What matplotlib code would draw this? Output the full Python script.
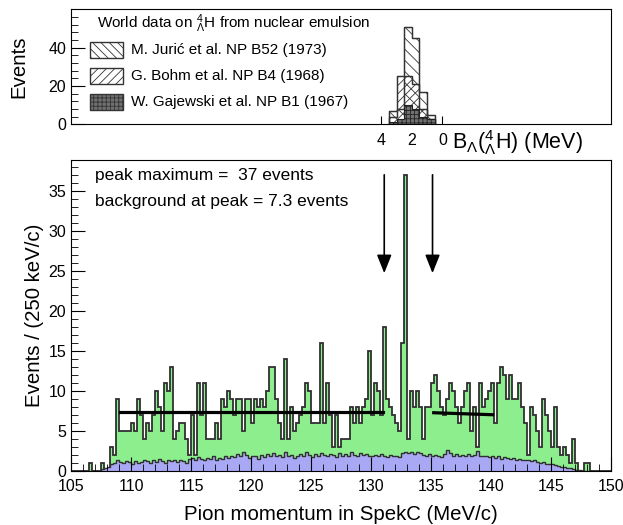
import numpy as np
import matplotlib
matplotlib.use('Agg')
import matplotlib.pyplot as plt
from matplotlib.patches import Rectangle
from matplotlib.ticker import MultipleLocator

plt.rcParams['font.family'] = ['Liberation Sans', 'DejaVu Sans']
plt.rcParams['mathtext.fontset'] = 'custom'
plt.rcParams['mathtext.rm'] = 'Liberation Sans'
plt.rcParams['mathtext.it'] = 'Liberation Sans:italic'
plt.rcParams['hatch.linewidth'] = 0.6

# pion momentum histogram, 0.25 MeV/c bins from 105 to 150 MeV/c
total_counts = [
    0, 0, 0, 0, 0, 0, 1, 0, 0, 0, 1, 0, 0, 3, 2,
    9, 5, 5, 5, 5, 6, 5, 9, 7, 4, 6, 5, 7, 10, 8,
    5, 11, 10, 13, 4, 5, 6, 6, 4, 2, 7, 2, 11, 7, 11,
    4, 4, 4, 6, 4, 9, 8, 10, 9, 7, 9, 9, 5, 9, 9,
    6, 9, 8, 9, 8, 10, 13, 13, 9, 6, 4, 14, 4, 8, 5,
    6, 7, 8, 11, 10, 6, 6, 6, 16, 6, 11, 7, 3, 7, 3,
    4, 4, 4, 8, 6, 8, 6, 8, 9, 15, 7, 11, 10, 7, 18,
    9, 8, 7, 6, 5, 16, 37, 4, 10, 8, 10, 8, 4, 8, 8,
    11, 12, 10, 8, 7, 9, 11, 10, 8, 6, 8, 10, 11, 5, 8,
    3, 11, 8, 9, 10, 11, 6, 11, 13, 12, 9, 12, 9, 9, 11,
    8, 6, 2, 8, 7, 5, 3, 9, 7, 5, 3, 8, 3, 2, 3,
    2, 1, 4, 1, 0, 0, 1, 1, 0, 0, 0, 0, 0, 0, 0,
]
background_counts = [
    0, 0, 0, 0, 0, 0, 0, 0, 0, 0, 0.2, 0.3, 0.5, 0.8, 1.0,
    1.3, 1.1, 1.0, 1.2, 1.1, 0.9, 1.2, 1.0, 1.1, 1.3, 1.2, 1.0, 1.3, 1.1, 1.5,
    1.2, 1.0, 1.3, 1.2, 1.4, 1.1, 1.3, 1.2, 1.0, 1.5, 1.6, 1.3, 1.7, 1.5, 1.4,
    1.6, 1.5, 1.8, 1.4, 1.6, 1.5, 1.9, 1.6, 1.8, 1.7, 2.1, 1.8, 2.4, 2.0, 1.6,
    1.9, 1.8, 1.5, 2.0, 1.7, 2.1, 1.8, 2.2, 1.9, 2.0, 1.7, 2.3, 1.8, 2.0, 1.6,
    1.9, 2.1, 1.8, 2.4, 2.0, 1.7, 2.1, 1.9, 2.2, 2.0, 1.8, 2.1, 2.0, 1.7, 2.2,
    1.9, 2.1, 1.8, 2.3, 2.0, 1.9, 2.2, 2.0, 2.1, 1.8, 1.9, 2.0, 1.8, 2.1, 1.9,
    1.7, 2.0, 1.8, 1.9, 1.7, 2.2, 2.4, 2.2, 2.3, 2.1, 2.4, 2.2, 2.0, 1.9, 2.1,
    1.8, 2.0, 1.9, 1.7, 2.1, 2.6, 2.2, 1.9, 2.1, 1.8, 2.0, 1.9, 2.1, 1.8, 2.0,
    2.5, 1.9, 1.8, 1.9, 1.7, 1.8, 1.6, 1.8, 1.5, 1.7, 1.6, 1.5, 1.6, 1.4, 1.5,
    1.3, 1.4, 1.3, 1.2, 1.3, 1.1, 1.0, 1.1, 0.9, 0.8, 0.9, 0.7, 0.6, 0.5, 0.5,
    0.4, 0.3, 0.2, 0.1, 0.1, 0, 0, 0, 0, 0, 0, 0, 0, 0, 0,
]
mom_edges = np.arange(105, 150.001, 0.25)

# background fit segments
fit1_x = [109.1, 131.0]
fit1_y = [7.35, 7.35]
fit2_x = [135.2, 140.1]
fit2_y = [7.25, 7.0]
arrow_x = [131.08, 135.1]

# emulsion data, binding energy bins (MeV)
b_edges = [0.5, 1.0, 1.5, 2.0, 2.5, 3.0, 3.5]
juric = [5, 17, 45, 51, 8, 7]
bohm = [3, 8, 21, 25, 25, 4]
gajewski = [3, 4, 8, 10, 3, 1]

fig = plt.figure(figsize=(6.23, 5.25), dpi=100)

# ---- top panel ----
ax1 = fig.add_axes([0.114, 0.7632, 0.8675, 0.219])
ax1.stairs(juric, b_edges, fill=True, facecolor='white', edgecolor='#333333', hatch='\\\\\\', lw=0.8)
ax1.stairs(juric, b_edges, color='#333333', lw=1.0)
ax1.stairs(bohm, b_edges, fill=True, facecolor='none', edgecolor='#333333', hatch='////', lw=0.8)
ax1.stairs(bohm, b_edges, color='#333333', lw=1.0)
ax1.stairs(gajewski, b_edges, fill=True, facecolor='#707070', edgecolor='#222222', hatch='++++', lw=0.8)
ax1.set_xlim(24.33, -11.08)
ax1.set_ylim(0, 60)
ax1.set_axisbelow(True)
ax1.set_xticks([4, 2, 0])
ax1.set_xticklabels(['4', '2', '0'])
ax1.set_yticks([0, 20, 40])
ax1.yaxis.set_minor_locator(MultipleLocator(4))
ax1.tick_params(axis='both', which='both', direction='in', labelsize=11.5)
ax1.tick_params(axis='y', which='major', length=10)
ax1.tick_params(axis='y', which='minor', length=5)
ax1.tick_params(axis='x', which='major', length=6, pad=6)
ax1.set_ylabel('Events', fontsize=14.7)
ax1.yaxis.set_label_coords(-0.078, 0.5)

ax1.text(0.048, 0.872, r'World data on $^{4}_{\Lambda}$H from nuclear emulsion',
         transform=ax1.transAxes, fontsize=11, va='center')
legend_rows = [('M. Jurić et al. NP B52 (1973)', 0.646, 'white', '\\\\\\\\'),
               ('G. Bohm et al. NP B4 (1968)', 0.42, 'white', '////'),
               ('W. Gajewski et al. NP B1 (1967)', 0.194, '#707070', '++++')]
for label, yc, fc, hatch in legend_rows:
    ax1.add_patch(Rectangle((0.035, yc - 0.07), 0.061, 0.14, transform=ax1.transAxes,
                            facecolor=fc, edgecolor='#333333', hatch=hatch, lw=1.0))
    ax1.text(0.111, yc, label, transform=ax1.transAxes, fontsize=11, va='center')

fig.text(452 / 623, 1 - 143 / 525, r'B$_{\Lambda}$($^{4}_{\Lambda}$H) (MeV)', fontsize=15.5, va='center')

# ---- bottom panel ----
ax2 = fig.add_axes([0.114, 0.1034, 0.8675, 0.5918])
ax2.stairs(total_counts, mom_edges, fill=True, color='#8cee8c')
ax2.stairs(total_counts, mom_edges, color='#303030', lw=1.3)
ax2.stairs(background_counts, mom_edges, fill=True, color='#a8a8f4')
ax2.stairs(background_counts, mom_edges, color='#303030', lw=1.0)
ax2.plot(fit1_x, fit1_y, color='black', lw=2.3)
ax2.plot(fit2_x, fit2_y, color='black', lw=2.3)
for xa in arrow_x:
    ax2.annotate('', xy=(xa, 24.7), xytext=(xa, 37.0),
                 arrowprops=dict(arrowstyle='-|>,head_length=0.7,head_width=0.28',
                                 mutation_scale=16, color='black', lw=1.2,
                                 shrinkA=0, shrinkB=0))
ax2.text(107.0, 36.96, 'peak maximum =  37 events', fontsize=12.5, va='center')
ax2.text(107.0, 33.7, 'background at peak = 7.3 events', fontsize=12.5, va='center')

ax2.set_xlim(105, 150)
ax2.set_ylim(0, 38.85)
ax2.xaxis.set_major_locator(MultipleLocator(5))
ax2.xaxis.set_minor_locator(MultipleLocator(1))
ax2.yaxis.set_major_locator(MultipleLocator(5))
ax2.yaxis.set_minor_locator(MultipleLocator(1))
ax2.tick_params(axis='both', which='both', direction='in', labelsize=11.5)
ax2.tick_params(axis='both', which='major', length=10)
ax2.tick_params(axis='both', which='minor', length=5)
ax2.tick_params(axis='x', which='major', pad=6)
ax2.set_xlabel('Pion momentum in SpekC (MeV/c)', fontsize=14.7, labelpad=8)
ax2.set_ylabel('Events / (250 keV/c)', fontsize=14.7)
ax2.yaxis.set_label_coords(-0.05, 0.5)

fig.savefig('out.png', dpi=100)
